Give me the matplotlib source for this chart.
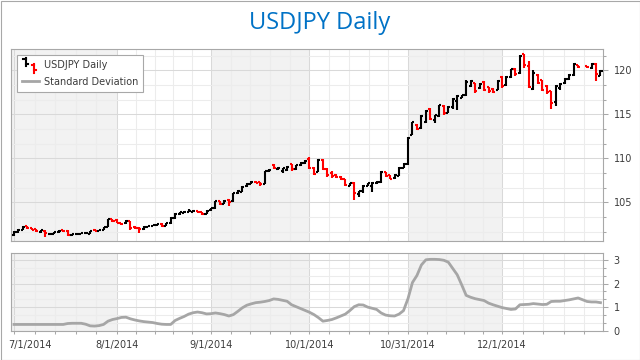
import numpy as np
import pandas as pd
import matplotlib
matplotlib.use("Agg")
import matplotlib.pyplot as plt
import matplotlib.ticker as mticker
from matplotlib.lines import Line2D
from matplotlib.legend_handler import HandlerBase
from matplotlib.patches import Rectangle

# ---------------- data ----------------
title = "USDJPY Daily"
series_name = "USDJPY Daily"
indicator_name = "Standard Deviation"
start_date = "2014-07-01"
end_date = "2014-12-31"
axis_end = "2015-01-01"
holidays = ["2014-12-25"]
month_ticks = ["2014-07-01", "2014-08-01", "2014-09-01", "2014-10-01", "2014-10-31", "2014-12-01", "2015-01-01"]
tick_labels = ["7/1/2014", "8/1/2014", "9/1/2014", "10/1/2014", "10/31/2014", "12/1/2014", ""]
price_ticks = [105, 110, 115, 120]
sd_ticks = [0, 1, 2, 3]

opens_jul = [101.30, 101.62, 101.85, 102.25, 102.05, 101.95, 101.60, 101.75, 101.35, 101.45, 101.60, 101.80,
             101.75, 101.25, 101.35, 101.40, 101.50, 101.45, 101.90, 101.75, 101.85, 102.20, 103.05]
highs_jul = [101.70, 101.95, 102.25, 102.30, 102.10, 102.00, 101.85, 101.80, 101.50, 101.65, 101.80, 101.85,
             101.80, 101.40, 101.45, 101.55, 101.60, 101.75, 101.95, 101.90, 102.20, 103.10, 103.10]
lows_jul = [101.20, 101.50, 101.80, 101.95, 101.85, 101.60, 101.50, 101.05, 101.30, 101.40, 101.55, 101.60,
            101.20, 101.20, 101.30, 101.35, 101.40, 101.40, 101.70, 101.70, 101.80, 102.15, 102.80]
closes_jul = [101.65, 101.85, 102.20, 102.05, 101.90, 101.70, 101.80, 101.50, 101.45, 101.60, 101.75, 101.70,
              101.25, 101.35, 101.40, 101.50, 101.55, 101.70, 101.75, 101.85, 102.15, 103.05, 102.85]

opens_aug = [103.00, 102.65, 102.60, 102.85, 102.20, 102.10, 101.95, 102.20, 102.30, 102.40, 102.55,
             102.35, 102.60, 103.20, 103.70, 103.80, 103.90, 103.95, 104.00, 103.90, 103.70]
highs_aug = [103.05, 102.70, 102.95, 102.90, 102.25, 102.15, 102.25, 102.35, 102.45, 102.55, 102.60,
             102.65, 103.30, 103.75, 103.90, 104.00, 104.20, 104.10, 104.05, 103.95, 104.15]
lows_aug = [102.60, 102.45, 102.55, 101.85, 101.95, 101.50, 101.90, 102.15, 102.25, 102.35, 102.15,
            102.30, 102.55, 103.15, 103.60, 103.75, 103.85, 103.85, 103.80, 103.50, 103.65]
closes_aug = [102.65, 102.50, 102.85, 102.10, 102.05, 101.95, 102.20, 102.30, 102.40, 102.50, 102.35,
              102.60, 103.20, 103.70, 103.85, 103.90, 104.05, 104.00, 103.90, 103.70, 104.05]

opens_sep = [104.10, 104.30, 105.10, 104.80, 105.25, 105.10, 106.00, 106.20, 106.80, 107.10, 107.35,
             107.30, 107.10, 108.50, 109.20, 108.75, 108.50, 108.65, 109.30, 108.75, 109.20, 109.45]
highs_sep = [104.35, 105.20, 105.15, 105.30, 105.40, 106.10, 106.40, 106.80, 107.15, 107.40, 107.40,
             107.35, 108.55, 108.80, 109.30, 109.05, 108.90, 109.15, 109.40, 109.25, 109.60, 109.75]
lows_sep = [104.05, 104.25, 104.70, 104.75, 104.60, 105.00, 105.95, 106.15, 106.75, 107.05, 107.15,
            106.90, 107.05, 108.45, 108.75, 108.70, 108.30, 108.60, 108.60, 108.70, 109.15, 109.40]
closes_sep = [104.30, 105.10, 104.80, 105.20, 105.05, 106.00, 106.30, 106.70, 107.10, 107.30, 107.20,
              107.10, 108.50, 108.70, 108.85, 108.95, 108.85, 109.05, 108.75, 109.20, 109.50, 109.65]

opens_oct = [109.90, 108.90, 108.45, 109.85, 108.80, 108.30, 108.15, 107.90, 107.60, 106.90, 107.20, 105.90,
             106.30, 106.85, 106.90, 107.15, 107.30, 108.40, 108.10, 107.75, 108.00, 108.90, 109.30]
highs_oct = [110.10, 109.00, 109.90, 109.90, 108.85, 108.50, 108.20, 107.95, 107.65, 107.20, 107.25, 106.30,
             107.00, 107.15, 107.30, 107.45, 108.50, 108.45, 108.15, 108.20, 109.00, 109.45, 112.45]
lows_oct = [108.80, 108.10, 108.40, 108.70, 107.90, 107.75, 107.75, 107.50, 106.80, 106.80, 105.25, 105.60,
            106.10, 106.80, 106.20, 107.10, 107.20, 107.90, 107.60, 107.70, 107.95, 108.85, 109.20]
closes_oct = [108.90, 108.20, 109.80, 108.80, 108.10, 108.00, 107.85, 107.60, 107.00, 107.15, 106.00, 106.25,
              106.90, 107.15, 107.20, 107.35, 108.40, 108.00, 107.70, 108.15, 108.90, 109.35, 112.30]

opens_nov = [112.70, 113.80, 113.40, 114.10, 115.60, 114.30, 114.80, 115.95, 115.20, 115.80,
             116.50, 116.85, 117.20, 118.20, 118.50, 117.95, 118.70, 118.10, 117.90, 117.80]
highs_nov = [114.15, 113.85, 114.90, 115.50, 115.70, 114.95, 116.10, 116.05, 115.90, 116.80,
             117.20, 117.20, 118.90, 118.95, 118.55, 118.50, 118.75, 118.15, 117.95, 118.90]
lows_nov = [112.60, 113.20, 113.35, 114.00, 114.35, 114.00, 114.70, 114.90, 115.15, 115.60,
            115.50, 116.80, 117.10, 118.10, 117.40, 117.90, 117.60, 117.40, 117.40, 117.75]
closes_nov = [114.10, 113.35, 114.80, 115.40, 114.50, 114.90, 116.00, 115.20, 115.85, 116.70,
              117.10, 117.15, 118.70, 118.80, 117.60, 118.40, 117.80, 117.60, 117.50, 118.80]

opens_dec = [119.20, 118.30, 119.25, 120.10, 119.70, 121.80, 120.50, 117.90, 119.50, 118.90, 118.20,
             117.60, 116.40, 118.00, 118.50, 119.00, 119.50, 120.60, 120.45, 120.30, 120.70, 119.35]
highs_dec = [119.30, 119.35, 120.20, 120.30, 121.70, 121.90, 121.00, 120.00, 119.60, 118.95, 118.30,
             117.60, 118.30, 118.50, 119.10, 119.60, 120.80, 120.65, 120.50, 120.85, 120.80, 120.05]
lows_dec = [118.00, 118.20, 119.10, 119.30, 119.60, 120.30, 117.95, 117.75, 118.40, 117.60, 117.30,
            115.60, 115.90, 117.80, 118.40, 118.90, 119.40, 120.30, 120.30, 120.20, 118.80, 119.30]
closes_dec = [118.20, 119.25, 120.10, 119.60, 121.60, 120.60, 118.10, 119.70, 118.60, 117.80, 117.50,
              116.30, 118.20, 118.45, 119.00, 119.50, 120.70, 120.40, 120.35, 120.75, 119.60, 119.95]

std_dev = [0.26, 0.26, 0.26, 0.26, 0.26, 0.26, 0.26, 0.26, 0.26, 0.26, 0.26, 0.26,
           0.30, 0.31, 0.31, 0.31, 0.27, 0.20, 0.19, 0.21, 0.26,
           0.40, 0.47, 0.51, 0.56, 0.57, 0.50, 0.45, 0.41, 0.38, 0.36, 0.34, 0.30, 0.27, 0.26, 0.26,
           0.43, 0.52, 0.60, 0.70, 0.76, 0.79, 0.76, 0.71, 0.72, 0.75, 0.72, 0.68, 0.62, 0.68,
           0.82, 0.97, 1.08, 1.14, 1.19, 1.21, 1.24, 1.28, 1.35, 1.33, 1.29, 1.25, 1.10, 1.02, 0.94, 0.86,
           0.78, 0.68, 0.55, 0.40, 0.43, 0.47, 0.54, 0.62, 0.70, 0.85, 1.02, 1.10, 1.09, 1.00, 0.95, 0.90,
           0.75, 0.66, 0.63, 0.62, 0.70, 0.85, 1.36,
           2.05, 2.35, 2.80, 3.02, 3.04, 3.04, 3.03, 3.00, 2.92, 2.65, 2.38, 1.95, 1.50, 1.42, 1.36, 1.32,
           1.28, 1.17, 1.10, 1.04,
           0.98, 0.94, 0.90, 0.92, 1.10, 1.11, 1.12, 1.15, 1.13, 1.11, 1.12, 1.24, 1.25, 1.25, 1.28, 1.31,
           1.35, 1.39, 1.24, 1.22, 1.22, 1.19]

opens = opens_jul + opens_aug + opens_sep + opens_oct + opens_nov + opens_dec
highs = highs_jul + highs_aug + highs_sep + highs_oct + highs_nov + highs_dec
lows = lows_jul + lows_aug + lows_sep + lows_oct + lows_nov + lows_dec
closes = closes_jul + closes_aug + closes_sep + closes_oct + closes_nov + closes_dec

# ---------------- positions (business-day scale) ----------------
slots = pd.bdate_range(start_date, axis_end)
slot_index = {d: i for i, d in enumerate(slots)}
hol = set(pd.to_datetime(holidays))
dates = [d for d in slots if d <= pd.Timestamp(end_date) and d not in hol]
x = np.array([slot_index[d] for d in dates], dtype=float)
o = np.array(opens); h = np.array(highs); l = np.array(lows); c = np.array(closes)
sd = np.array(std_dev)

major_pos = [slot_index[pd.Timestamp(d)] for d in month_ticks]
minor_pos = []
for a, b in zip(major_pos[:-1], major_pos[1:]):
    for k in range(1, 5):
        minor_pos.append(a + (b - a) * k / 5.0)

# ---------------- style ----------------
plt.rcParams["font.family"] = ["DejaVu Sans"]
W, H = 640, 360
fig = plt.figure(figsize=(W / 100, H / 100), dpi=100)
fig.patch.set_facecolor("white")

def fr(px_left, px_top, px_right, px_bottom):
    return [px_left / W, 1 - px_bottom / H, (px_right - px_left) / W, (px_bottom - px_top) / H]

ax = fig.add_axes(fr(11, 49, 603, 241))
ax2 = fig.add_axes(fr(11, 253, 603, 331))

xlim = (-0.67, 131.56)
band_col = "#f2f2f2"
major_grid = "#d9d9d9"
minor_grid = "#ececec"
spine_col = "#a8a8a8"
text_col = "#3c3c3c"

for a in (ax, ax2):
    a.set_xlim(*xlim)
    a.set_axisbelow(True)
    # alternating month bands
    a.axvspan(xlim[0], major_pos[1], color=band_col, zorder=0.1, lw=0)
    a.axvspan(major_pos[2], major_pos[3], color=band_col, zorder=0.1, lw=0)
    a.axvspan(major_pos[4], major_pos[5], color=band_col, zorder=0.1, lw=0)
    a.xaxis.set_major_locator(mticker.FixedLocator(major_pos))
    a.xaxis.set_minor_locator(mticker.FixedLocator(minor_pos))
    a.grid(which="major", color=major_grid, lw=0.75)
    a.grid(which="minor", color=minor_grid, lw=0.75)
    for s in a.spines.values():
        s.set_color(spine_col)
        s.set_linewidth(0.8)
    a.yaxis.tick_right()
    a.tick_params(axis="y", which="major", length=3.6, width=0.75, color=spine_col,
                  labelsize=7, labelcolor=text_col, pad=4)
    a.tick_params(axis="y", which="minor", length=2.2, width=0.75, color=spine_col)

# ---------------- top panel: OHLC ----------------
ax.set_ylim(100.6, 122.42)
ax.yaxis.set_major_locator(mticker.FixedLocator(price_ticks))
ax.yaxis.set_minor_locator(mticker.MultipleLocator(5 / 3))
ax.tick_params(axis="x", which="both", length=0, labelbottom=False)

cols = np.where(c < o, "#ff0000", "#000000")
tw = 0.45
ax.vlines(x, l, h, colors=cols, lw=1.5, zorder=3)
ax.hlines(o, x - tw, x, colors=cols, lw=1.5, zorder=3)
ax.hlines(c, x, x + tw, colors=cols, lw=1.5, zorder=3)

# ---------------- bottom panel: std dev ----------------
ax2.set_ylim(-0.02, 3.31)
ax2.yaxis.set_major_locator(mticker.FixedLocator(sd_ticks))
ax2.yaxis.set_minor_locator(mticker.MultipleLocator(1 / 3))
ax2.plot(x, sd, color="#a6a6a6", lw=2.0, zorder=3, solid_joinstyle="round")

ax2.xaxis.set_major_formatter(mticker.FixedFormatter([""] + tick_labels[1:]))
ax2.tick_params(axis="x", which="major", length=2.5, width=0.75, color=spine_col,
                labelsize=7, labelcolor=text_col, pad=4.2)
ax2.tick_params(axis="x", which="minor", length=2.5, width=0.75, color=spine_col)
ax2.annotate(tick_labels[0], xy=(major_pos[0], 0), xycoords=("data", "axes fraction"),
             xytext=(-4.3, -6.7), textcoords="offset points", ha="left", va="top",
             fontsize=7, color=text_col)

# ---------------- legend ----------------
class OHLCHandler(HandlerBase):
    def create_artists(self, legend, orig_handle, xdescent, ydescent, width, height, fontsize, trans):
        x0, y0 = -xdescent, -ydescent
        arts = []
        tick = width * 0.13
        specs = [(0.22, 0.30, 1.45, 1.30, 0.55, "#000000"),
                 (0.70, -0.70, 0.55, 0.45, -0.25, "#ff0000")]
        for fx, lo, hi, op, cl, col in specs:
            bx = x0 + fx * width
            arts.append(Line2D([bx, bx], [y0 + lo * height, y0 + hi * height], color=col, lw=1.5, transform=trans))
            arts.append(Line2D([bx - tick, bx], [y0 + op * height] * 2, color=col, lw=1.5, transform=trans))
            arts.append(Line2D([bx, bx + tick], [y0 + cl * height] * 2, color=col, lw=1.5, transform=trans))
        return arts

ohlc_handle = Line2D([], [], color="black")
sd_handle = Line2D([], [], color="#a6a6a6", lw=2.0)
leg = ax.legend([ohlc_handle, sd_handle], [series_name, indicator_name],
                handler_map={ohlc_handle: OHLCHandler()},
                loc="upper left", bbox_to_anchor=(6 / 592, 1 - 6 / 192), borderaxespad=0,
                fontsize=7, frameon=True, fancybox=False, framealpha=1, edgecolor=spine_col,
                handlelength=1.75, handletextpad=0.5, borderpad=0.5, labelspacing=0.7)
leg.get_frame().set_linewidth(0.8)
for t in leg.get_texts():
    t.set_color(text_col)
leg.set_zorder(10)

# ---------------- title & border ----------------
fig.text(0.5, 1 - 23 / H, title, ha="center", va="center", fontsize=17,
         color="#0072C6", family=["Open Sans", "DejaVu Sans"])
fig.patches.append(Rectangle((0.5 / W, 0.5 / H), 639 / W, 359 / H, transform=fig.transFigure,
                             fill=False, edgecolor="#a8a8a8", lw=0.8))

fig.savefig("out.png", dpi=100)
